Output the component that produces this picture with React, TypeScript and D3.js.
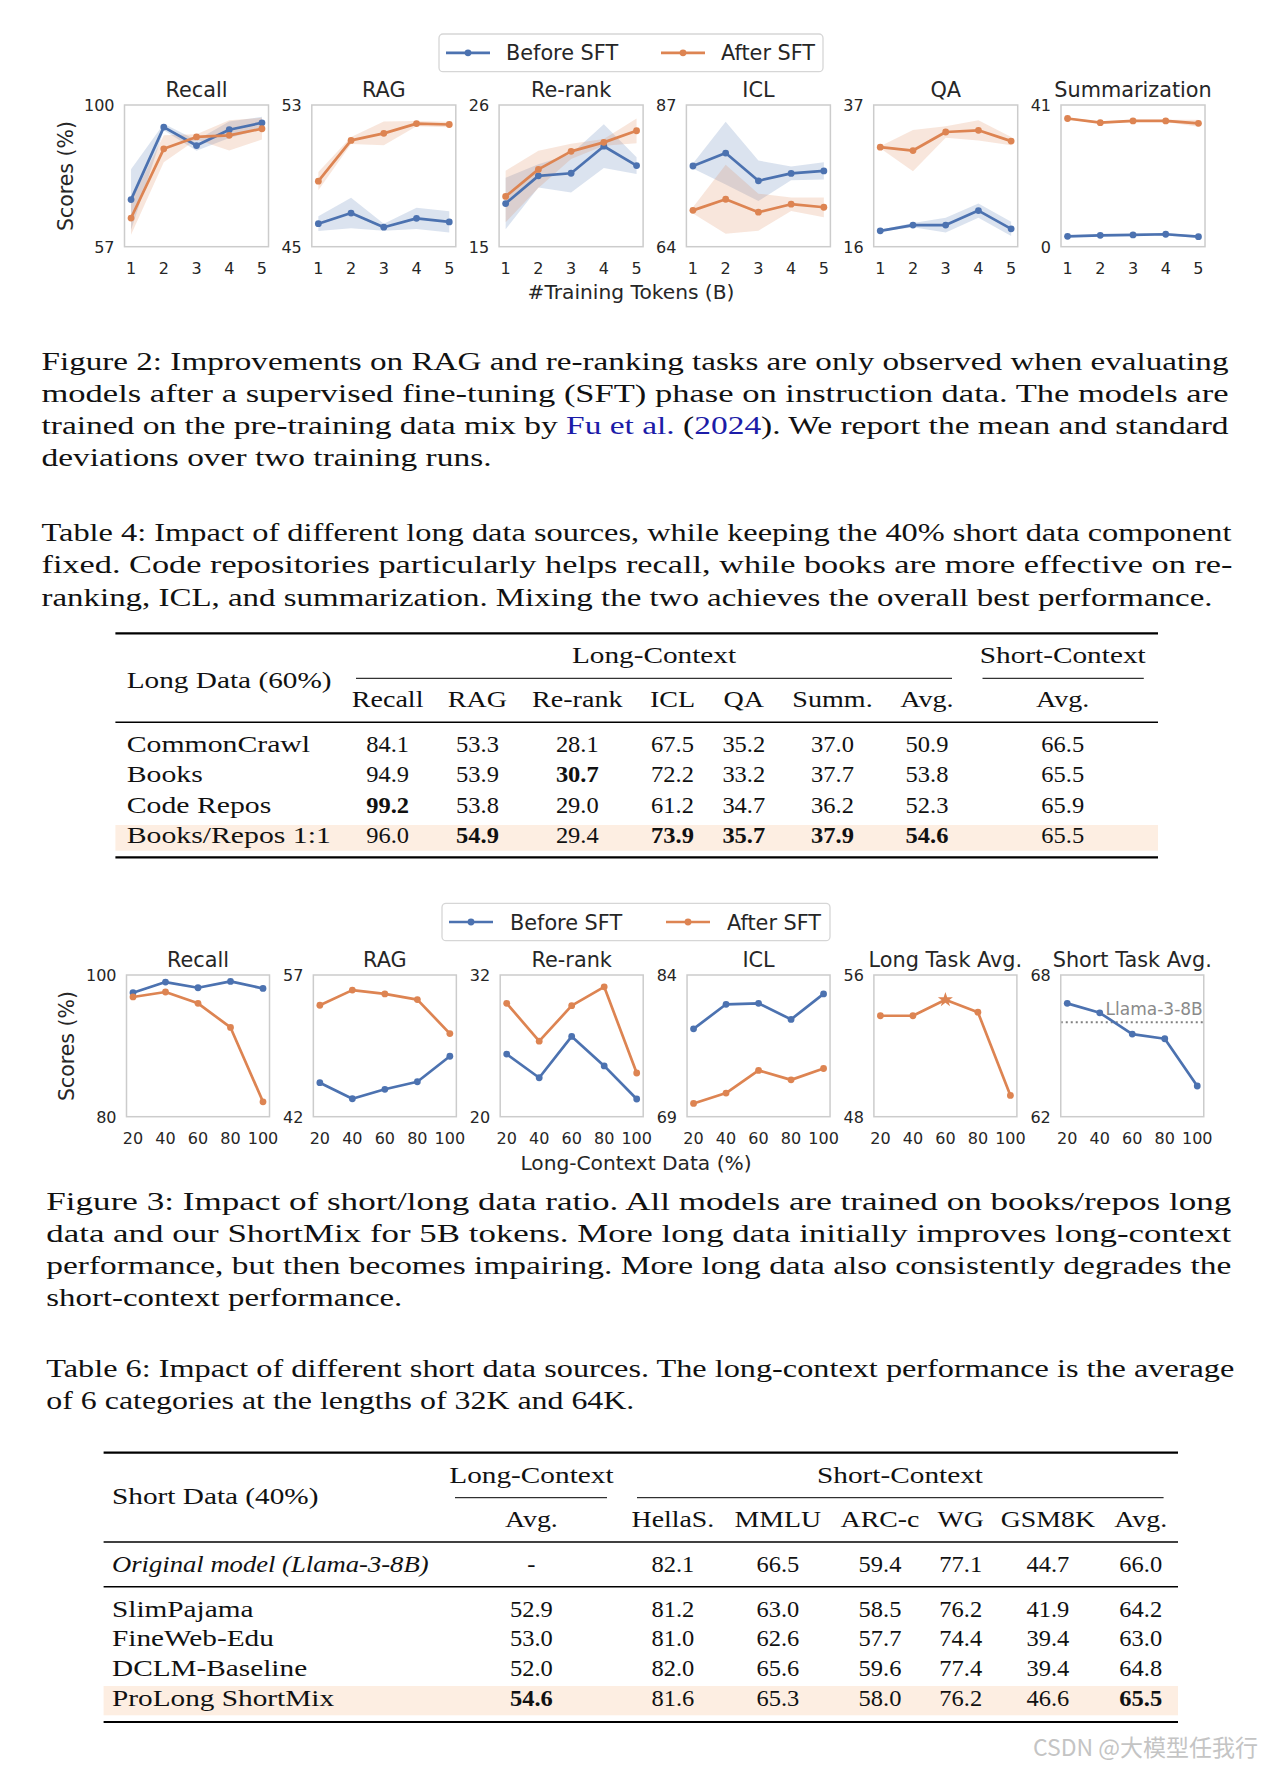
import React from "react";
import * as d3 from "d3";

// ---------------- Figure 2 data ----------------
const fig2Tokens = [1, 2, 3, 4, 5];
const fig2Titles = ["Recall", "RAG", "Re-rank", "ICL", "QA", "Summarization"];
const fig2YMin = [57, 45, 15, 64, 16, 0];
const fig2YMax = [100, 53, 26, 87, 37, 41];

const recallBefore = [71.3, 93.3, 87.7, 92.5, 94.6];
const recallBeforeStd = [9.2, 1.0, 1.6, 2.5, 1.8];
const recallAfter = [65.7, 86.7, 90.3, 90.8, 92.8];
const recallAfterStd = [5.1, 4.1, 0.8, 4.6, 3.3];

const ragBefore = [46.3, 46.9, 46.1, 46.6, 46.4];
const ragBeforeStd = [0.42, 0.86, 0.2, 0.6, 0.6];
const ragAfter = [48.7, 51.0, 51.4, 51.95, 51.9];
const ragAfterStd = [0.52, 0.2, 0.67, 0.15, 0.15];

const rerankBefore = [18.35, 20.5, 20.7, 22.8, 21.3];
const rerankBeforeStd = [2.0, 0.9, 1.5, 1.7, 0.65];
const rerankAfter = [18.9, 21.0, 22.4, 23.1, 24.0];
const rerankAfterStd = [2.0, 1.45, 0.6, 0.26, 0.96];

const iclBefore = [77.1, 79.2, 74.7, 75.9, 76.3];
const iclBeforeStd = [0.4, 5.1, 3.3, 1.1, 1.4];
const iclAfter = [69.9, 71.7, 69.6, 70.9, 70.4];
const iclAfterStd = [0.5, 5.6, 3.0, 1.1, 1.6];

const qaBefore = [18.35, 19.2, 19.2, 21.35, 18.65];
const qaBeforeStd = [0.15, 0.3, 1.1, 1.05, 1.05];
const qaAfter = [30.75, 30.25, 33.0, 33.25, 31.65];
const qaAfterStd = [0.15, 3.05, 0.85, 1.5, 0.6];

const summBefore = [3.0, 3.3, 3.4, 3.6, 2.9];
const summBeforeStd = [0.3, 0.3, 0.3, 0.4, 0.3];
const summAfter = [37.1, 35.9, 36.4, 36.4, 35.7];
const summAfterStd = [0.3, 0.3, 0.3, 0.3, 1.0];

// ---------------- Figure 3 data ----------------
const fig3Ratios = [20, 40, 60, 80, 100];
const fig3Titles = ["Recall", "RAG", "Re-rank", "ICL", "Long Task Avg.", "Short Task Avg."];
const fig3YMin = [80, 42, 20, 69, 48, 62];
const fig3YMax = [100, 57, 32, 84, 56, 68];

const f3RecallBefore = [97.5, 99.0, 98.2, 99.1, 98.1];
const f3RecallAfter = [96.9, 97.6, 96.0, 92.6, 82.1];
const f3RagBefore = [45.6, 43.9, 44.9, 45.7, 48.4];
const f3RagAfter = [53.8, 55.4, 55.0, 54.4, 50.8];
const f3RerankBefore = [25.3, 23.3, 26.8, 24.3, 21.5];
const f3RerankAfter = [29.6, 26.4, 29.4, 31.0, 23.7];
const f3IclBefore = [78.3, 80.9, 81.0, 79.3, 82.0];
const f3IclAfter = [70.4, 71.5, 73.9, 72.9, 74.1];
const f3LongAvgAfter = [53.7, 53.7, 54.6, 53.9, 49.2];
const f3LongAvgStarIndex = 2;
const f3ShortAvgBefore = [66.8, 66.4, 65.5, 65.3, 63.3];
const llamaShortAvg = 66.0;
const llamaLabel = "Llama-3-8B";

const legendLabels = ["Before SFT", "After SFT"];

// ---------------- Table 4 data ----------------
const t4Rows = ["CommonCrawl", "Books", "Code Repos", "Books/Repos 1:1"];
const t4Cols = ["Recall", "RAG", "Re-rank", "ICL", "QA", "Summ.", "Avg."];
const t4Recall = [84.1, 94.9, 99.2, 96.0];
const t4Rag = [53.3, 53.9, 53.8, 54.9];
const t4Rerank = [28.1, 30.7, 29.0, 29.4];
const t4Icl = [67.5, 72.2, 61.2, 73.9];
const t4Qa = [35.2, 33.2, 34.7, 35.7];
const t4Summ = [37.0, 37.7, 36.2, 37.9];
const t4Avg = [50.9, 53.8, 52.3, 54.6];
const t4ShortAvg = [66.5, 65.5, 65.9, 65.5];

// ---------------- Table 6 data ----------------
const t6Rows = ["SlimPajama", "FineWeb-Edu", "DCLM-Baseline", "ProLong ShortMix"];
const t6Cols = ["HellaS.", "MMLU", "ARC-c", "WG", "GSM8K", "Avg."];
const t6LongAvg = [52.9, 53.0, 52.0, 54.6];
const t6Hella = [81.2, 81.0, 82.0, 81.6];
const t6Mmlu = [63.0, 62.6, 65.6, 65.3];
const t6Arc = [58.5, 57.7, 59.6, 58.0];
const t6Wg = [76.2, 74.4, 77.4, 76.2];
const t6Gsm = [41.9, 39.4, 39.4, 46.6];
const t6ShortAvg = [64.2, 63.0, 64.8, 65.5];
const t6Original = [82.1, 66.5, 59.4, 77.1, 44.7, 66.0];

// ---------------- styles ----------------
const BLUE = "#4c72b0";
const ORANGE = "#dd8452";
const INK = "#262626";
const SANS = "'DejaVu Sans', sans-serif";
const SERIF = "'Liberation Serif', 'Times New Roman', serif";
const TXT = "#111111";
const LINK = "#1c1ca8";
const HIGHLIGHT = "#fdeee2";

type Series = { color: string; mean: number[]; std?: number[]; star?: number };

function Panel(props: {
  left: number; top: number; w: number; h: number; xs: number[]; pad: number;
  yMin: number; yMax: number; title: string; series: Series[];
  refValue?: number; refLabel?: string;
}) {
  const { left, top, w, h, xs, pad, yMin, yMax, title, series, refValue, refLabel } = props;
  const x = d3.scaleLinear().domain([xs[0] - pad, xs[xs.length - 1] + pad]).range([left, left + w]);
  const y = d3.scaleLinear().domain([yMin, yMax]).range([top + h, top]);
  const line = d3.line<number>().x((_, i) => x(xs[i])).y((d) => y(d));
  const band = (m: number[], s: number[]) =>
    d3.area<number>().x((_, i) => x(xs[i])).y0((d, i) => y(d - s[i])).y1((d, i) => y(d + s[i]))(m) || "";
  const star = d3.symbol(d3.symbolStar, 70)() || "";
  return (
    <g>
      <rect x={left} y={top} width={w} height={h} fill="#ffffff" />
      {series.filter((s) => s.std).map((s, k) => (
        <path key={"b" + k} d={band(s.mean, s.std as number[])} fill={s.color} fillOpacity={0.2} stroke="none" />
      ))}
      {refValue !== undefined && (
        <g>
          <line x1={left} x2={left + w} y1={y(refValue)} y2={y(refValue)} stroke="#808080" strokeWidth={2} strokeDasharray="2,3" />
          <text x={left + w - 1} y={y(refValue) - 7} textAnchor="end" fontFamily={SANS} fontSize={17} fill="#8a8a8a">{refLabel}</text>
        </g>
      )}
      {series.map((s, k) => (
        <g key={"l" + k}>
          <path d={line(s.mean) || ""} fill="none" stroke={s.color} strokeWidth={2.7} strokeLinejoin="round" />
          {s.mean.map((v, i) =>
            i === s.star ? (
              <path key={i} d={star} transform={`translate(${x(xs[i])},${y(v)})`} fill={s.color} />
            ) : (
              <circle key={i} cx={x(xs[i])} cy={y(v)} r={3.4} fill={s.color} />
            )
          )}
        </g>
      ))}
      <rect x={left} y={top} width={w} height={h} fill="none" stroke="#cccccc" strokeWidth={1.5} />
      <text x={left + w / 2} y={top - 8.5} textAnchor="middle" fontFamily={SANS} fontSize={20.8} fill={INK}>{title}</text>
      {y.domain().map((t) => (
        <text key={"y" + t} x={left - 10} y={y(t) + 5.8} textAnchor="end" fontFamily={SANS} fontSize={16} fill={INK}>{t}</text>
      ))}
      {xs.map((t) => (
        <text key={"x" + t} x={x(t)} y={top + h + 27} textAnchor="middle" fontFamily={SANS} fontSize={16} fill={INK}>{t}</text>
      ))}
    </g>
  );
}

function Legend(props: { x: number; y: number; w: number; h: number; items: { label: string; color: string; lx: number; tx: number }[] }) {
  const { x, y, w, h, items } = props;
  const cy = y + h / 2;
  return (
    <g>
      <rect x={x} y={y} width={w} height={h} rx={4} fill="#ffffff" stroke="#d6d6d6" strokeWidth={1.3} />
      {items.map((it) => (
        <g key={it.label}>
          <line x1={it.lx} x2={it.lx + 44} y1={cy} y2={cy} stroke={it.color} strokeWidth={2.7} />
          <circle cx={it.lx + 22} cy={cy} r={3.4} fill={it.color} />
          <text x={it.tx} y={cy + 7.5} fontFamily={SANS} fontSize={20.8} fill={INK}>{it.label}</text>
        </g>
      ))}
    </g>
  );
}

function CapLine(props: { x: number; y: number; w: number; children: React.ReactNode }) {
  return (
    <text x={props.x} y={props.y} textLength={props.w} lengthAdjust="spacingAndGlyphs" fontFamily={SERIF} fontSize={25.5} fill={TXT}>
      {props.children}
    </text>
  );
}

function ST(props: { x: number; y: number; anchor?: string; sx?: number; bold?: boolean; italic?: boolean; size?: number; children: React.ReactNode }) {
  const { x, y, anchor = "start", sx = 1.22, bold = false, italic = false, size = 24 } = props;
  return (
    <text transform={`translate(${x},${y}) scale(${sx},1)`} textAnchor={anchor as any} fontFamily={SERIF} fontSize={size}
      fontWeight={bold ? 700 : 400} fontStyle={italic ? "italic" : "normal"} fill={TXT}>
      {props.children}
    </text>
  );
}

const fmt = (v: number) => v.toFixed(1);

export default function App() {
  const f2 = { left0: 124.5, step: 187.3, w: 144, top: 105, h: 141.7 };
  const f2Series: Series[][] = [
    [{ color: BLUE, mean: recallBefore, std: recallBeforeStd }, { color: ORANGE, mean: recallAfter, std: recallAfterStd }],
    [{ color: BLUE, mean: ragBefore, std: ragBeforeStd }, { color: ORANGE, mean: ragAfter, std: ragAfterStd }],
    [{ color: BLUE, mean: rerankBefore, std: rerankBeforeStd }, { color: ORANGE, mean: rerankAfter, std: rerankAfterStd }],
    [{ color: BLUE, mean: iclBefore, std: iclBeforeStd }, { color: ORANGE, mean: iclAfter, std: iclAfterStd }],
    [{ color: BLUE, mean: qaBefore, std: qaBeforeStd }, { color: ORANGE, mean: qaAfter, std: qaAfterStd }],
    [{ color: BLUE, mean: summBefore, std: summBeforeStd }, { color: ORANGE, mean: summAfter, std: summAfterStd }],
  ];
  const f3 = { left0: 126.5, step: 186.85, w: 143, top: 975, h: 141.7 };
  const f3Series: Series[][] = [
    [{ color: BLUE, mean: f3RecallBefore }, { color: ORANGE, mean: f3RecallAfter }],
    [{ color: BLUE, mean: f3RagBefore }, { color: ORANGE, mean: f3RagAfter }],
    [{ color: BLUE, mean: f3RerankBefore }, { color: ORANGE, mean: f3RerankAfter }],
    [{ color: BLUE, mean: f3IclBefore }, { color: ORANGE, mean: f3IclAfter }],
    [{ color: ORANGE, mean: f3LongAvgAfter, star: f3LongAvgStarIndex }],
    [{ color: BLUE, mean: f3ShortAvgBefore }],
  ];

  const t4Values = [t4Recall, t4Rag, t4Rerank, t4Icl, t4Qa, t4Summ, t4Avg];
  const t4ColX = [387.6, 477.5, 577.3, 672.5, 743.8, 832.5, 927];
  const t4ShortX = 1062.7;
  const t4RowY = [752.3, 782.3, 812.5, 842.6];
  const t4Max = t4Values.map((col) => d3.max(col) as number);

  const t6Values = [t6Hella, t6Mmlu, t6Arc, t6Wg, t6Gsm, t6ShortAvg];
  const t6ColX = [672.9, 777.9, 880, 960.7, 1047.9, 1140.7];
  const t6LongX = 531.4;
  const t6RowY = [1616.7, 1646.3, 1676, 1705.5];
  const t6BoldRow = 3;

  return (
    <svg width={1275} height={1769} style={{ position: "absolute", left: 0, top: 0, background: "#ffffff" }}>
      <rect x={0} y={0} width={1275} height={1769} fill="#ffffff" />

      {/* ---------- Figure 2 ---------- */}
      <Legend x={439} y={34} w={384} h={37.7} items={[
        { label: legendLabels[0], color: BLUE, lx: 446, tx: 506 },
        { label: legendLabels[1], color: ORANGE, lx: 661, tx: 721 },
      ]} />
      {fig2Titles.map((t, i) => (
        <Panel key={t} left={f2.left0 + i * f2.step} top={f2.top} w={f2.w} h={f2.h} xs={fig2Tokens} pad={0.2}
          yMin={fig2YMin[i]} yMax={fig2YMax[i]} title={t} series={f2Series[i]} />
      ))}
      <text transform="translate(65.5,176) rotate(-90)" textAnchor="middle" dominantBaseline="central" fontFamily={SANS} fontSize={20.5} fill={INK}>Scores (%)</text>
      <text x={631} y={298.5} textAnchor="middle" fontFamily={SANS} fontSize={20.2} fill={INK}>#Training Tokens (B)</text>

      {/* ---------- Figure 2 caption ---------- */}
      <CapLine x={41.5} y={369.5} w={1187}>Figure 2: Improvements on RAG and re-ranking tasks are only observed when evaluating</CapLine>
      <CapLine x={41.5} y={401.8} w={1187}>models after a supervised fine-tuning (SFT) phase on instruction data.  The models are</CapLine>
      <CapLine x={41.5} y={434.1} w={1187}>
        trained on the pre-training data mix by <tspan fill={LINK}>Fu et al.</tspan> (<tspan fill={LINK}>2024</tspan>). We report the mean and standard
      </CapLine>
      <CapLine x={41.5} y={466.4} w={450}>deviations over two training runs.</CapLine>

      {/* ---------- Table 4 caption ---------- */}
      <CapLine x={41.5} y={541} w={1190}>Table 4: Impact of different long data sources, while keeping the 40% short data component</CapLine>
      <CapLine x={41.5} y={573.3} w={1191}>fixed.  Code repositories particularly helps recall, while books are more effective on re-</CapLine>
      <CapLine x={41.5} y={605.6} w={1171}>ranking, ICL, and summarization. Mixing the two achieves the overall best performance.</CapLine>

      {/* ---------- Table 4 ---------- */}
      <line x1={115.4} x2={1158} y1={633.3} y2={633.3} stroke="#000" strokeWidth={2.2} />
      <ST x={654} y={663.3} anchor="middle">Long-Context</ST>
      <ST x={1062.7} y={663.3} anchor="middle">Short-Context</ST>
      <line x1={356} x2={952} y1={678.3} y2={678.3} stroke="#000" strokeWidth={1} />
      <line x1={982.5} x2={1143.8} y1={678.3} y2={678.3} stroke="#000" strokeWidth={1} />
      <ST x={126.7} y={687.5}>Long Data (60%)</ST>
      {t4Cols.map((c, j) => (
        <ST key={c} x={t4ColX[j]} y={707.3} anchor="middle" sx={1.17}>{c}</ST>
      ))}
      <ST x={t4ShortX} y={707.3} anchor="middle" sx={1.17}>Avg.</ST>
      <line x1={115.4} x2={1158} y1={722.3} y2={722.3} stroke="#000" strokeWidth={1.4} />
      <rect x={115.4} y={825} width={1158 - 115.4} height={25.7} fill={HIGHLIGHT} />
      {t4Rows.map((r, i) => (
        <g key={r}>
          <ST x={126.7} y={t4RowY[i]} sx={1.24}>{r}</ST>
          {t4Values.map((col, j) => (
            <ST key={j} x={t4ColX[j]} y={t4RowY[i]} anchor="middle" sx={1.02} bold={col[i] === t4Max[j]}>{fmt(col[i])}</ST>
          ))}
          <ST x={t4ShortX} y={t4RowY[i]} anchor="middle" sx={1.02}>{fmt(t4ShortAvg[i])}</ST>
        </g>
      ))}
      <line x1={115.4} x2={1158} y1={857.3} y2={857.3} stroke="#000" strokeWidth={2.2} />

      {/* ---------- Figure 3 ---------- */}
      <Legend x={442} y={903.3} w={388} h={37.4} items={[
        { label: legendLabels[0], color: BLUE, lx: 449, tx: 510 },
        { label: legendLabels[1], color: ORANGE, lx: 666, tx: 727 },
      ]} />
      {fig3Titles.map((t, i) => (
        <Panel key={t} left={f3.left0 + i * f3.step} top={f3.top} w={f3.w} h={f3.h} xs={fig3Ratios} pad={4}
          yMin={fig3YMin[i]} yMax={fig3YMax[i]} title={t} series={f3Series[i]}
          refValue={i === 5 ? llamaShortAvg : undefined} refLabel={i === 5 ? llamaLabel : undefined} />
      ))}
      <text transform="translate(66.5,1046) rotate(-90)" textAnchor="middle" dominantBaseline="central" fontFamily={SANS} fontSize={20.5} fill={INK}>Scores (%)</text>
      <text x={636} y={1170} textAnchor="middle" fontFamily={SANS} fontSize={20.2} fill={INK}>Long-Context Data (%)</text>

      {/* ---------- Figure 3 caption ---------- */}
      <CapLine x={46.3} y={1209.5} w={1185}>Figure 3:  Impact of short/long data ratio.  All models are trained on books/repos long</CapLine>
      <CapLine x={46.3} y={1241.8} w={1185}>data and our ShortMix for 5B tokens.  More long data initially improves long-context</CapLine>
      <CapLine x={46.3} y={1274} w={1185}>performance, but then becomes impairing. More long data also consistently degrades the</CapLine>
      <CapLine x={46.3} y={1306.2} w={356}>short-context performance.</CapLine>

      {/* ---------- Table 6 caption ---------- */}
      <CapLine x={46.3} y={1376.7} w={1188}>Table 6: Impact of different short data sources. The long-context performance is the average</CapLine>
      <CapLine x={46.3} y={1409.3} w={588}>of 6 categories at the lengths of 32K and 64K.</CapLine>

      {/* ---------- Table 6 ---------- */}
      <line x1={103.6} x2={1178} y1={1452.7} y2={1452.7} stroke="#000" strokeWidth={2.2} />
      <ST x={t6LongX} y={1483.3} anchor="middle">Long-Context</ST>
      <ST x={900} y={1483.3} anchor="middle">Short-Context</ST>
      <line x1={455} x2={607} y1={1497.7} y2={1497.7} stroke="#000" strokeWidth={1} />
      <line x1={637} x2={1163.6} y1={1497.7} y2={1497.7} stroke="#000" strokeWidth={1} />
      <ST x={112} y={1504}>Short Data (40%)</ST>
      <ST x={t6LongX} y={1527.3} anchor="middle" sx={1.16}>Avg.</ST>
      {t6Cols.map((c, j) => (
        <ST key={c} x={t6ColX[j]} y={1527.3} anchor="middle" sx={1.16}>{c}</ST>
      ))}
      <line x1={103.6} x2={1178} y1={1542} y2={1542} stroke="#000" strokeWidth={1.4} />
      <ST x={112} y={1571.7} italic sx={1.11}>Original model (Llama-3-8B)</ST>
      <ST x={t6LongX} y={1571.7} anchor="middle" sx={1.02}>-</ST>
      {t6Original.map((v, j) => (
        <ST key={j} x={t6ColX[j]} y={1571.7} anchor="middle" sx={1.02}>{fmt(v)}</ST>
      ))}
      <line x1={103.6} x2={1178} y1={1586.7} y2={1586.7} stroke="#000" strokeWidth={1.4} />
      <rect x={103.6} y={1686} width={1178 - 103.6} height={29.3} fill={HIGHLIGHT} />
      {t6Rows.map((r, i) => (
        <g key={r}>
          <ST x={112} y={t6RowY[i]}>{r}</ST>
          <ST x={t6LongX} y={t6RowY[i]} anchor="middle" sx={1.02} bold={i === t6BoldRow}>{fmt(t6LongAvg[i])}</ST>
          {t6Values.map((col, j) => (
            <ST key={j} x={t6ColX[j]} y={t6RowY[i]} anchor="middle" sx={1.02} bold={i === t6BoldRow && j === t6Values.length - 1}>{fmt(col[i])}</ST>
          ))}
        </g>
      ))}
      <line x1={103.6} x2={1178} y1={1722} y2={1722} stroke="#000" strokeWidth={2.2} />

      {/* watermark */}
      <text x={1033} y={1756} fontFamily="'Noto Sans CJK SC', 'Noto Sans', sans-serif" fontSize={23} fill="#c4c4c4">CSDN @大模型任我行</text>
    </svg>
  );
}
